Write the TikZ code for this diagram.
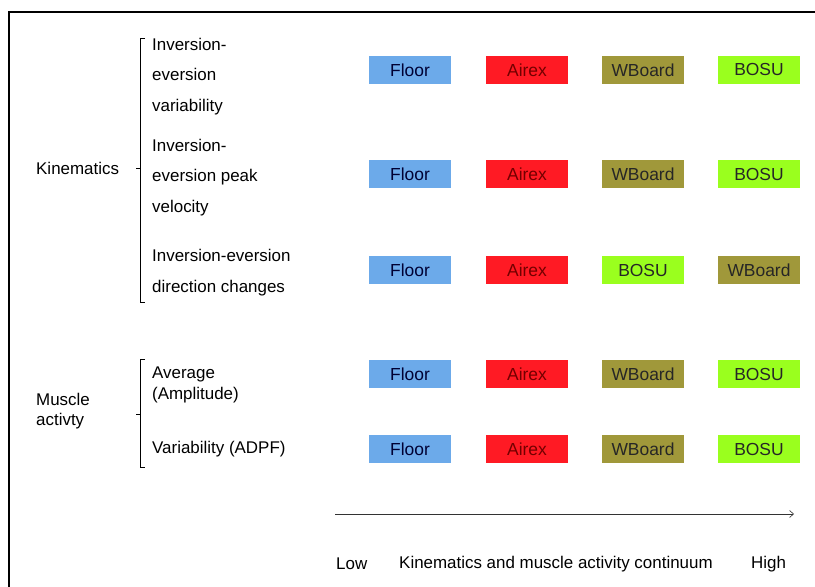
\documentclass[tikz,border=0pt]{standalone}
\usepackage{fontspec}
\setmainfont{Liberation Sans}
\usetikzlibrary{arrows.meta}
\definecolor{floorblue}{RGB}{108,170,234}
\definecolor{airexred}{RGB}{255,26,36}
\definecolor{wboardolive}{RGB}{160,152,58}
\definecolor{bosulime}{RGB}{154,255,30}
\tikzset{
  lbl/.style={anchor=west,inner sep=0pt,align=left,font=\fontsize{17}{30.5}\selectfont},
  cbox/.style={minimum width=82bp,minimum height=28bp,inner sep=0pt,font=\fontsize{17.5}{18}\selectfont,text=black!85},
  c-Floor/.style={cbox,fill=floorblue,text=blue!20!black},
  c-Airex/.style={cbox,fill=airexred,text=red!45!black},
  c-WBoard/.style={cbox,fill=wboardolive},
  c-BOSU/.style={cbox,fill=bosulime}
}
\begin{document}
\begin{tikzpicture}[x=1bp,y=-1bp,>={Straight Barb[length=4bp,width=7bp]}]
\useasboundingbox (0,0) rectangle (815,587);
% frame
\draw[line width=1.3bp] (9,587) -- (9,12) -- (815,12);
% group labels
\node[lbl] (kin) at (36,168) {Kinematics};
\node[lbl,font=\fontsize{17}{20}\selectfont] (mus) at (36,411) {Muscle\\activty};
% brackets
\draw[line width=0.8bp] (145,38) -- (140,38) -- (140,302) -- (145,302)
  (140,168) -- (136,168);
\draw[line width=0.8bp] (145,359) -- (140,359) -- (140,467) -- (145,467)
  (140,414) -- (136,414);
% measures
\node[lbl] (ivar) at (152,76.5) {Inversion-\\eversion\\variability};
\node[lbl] (ipeak) at (152,177.5) {Inversion-\\eversion peak\\velocity};
\node[lbl] (idir) at (152,272.5) {Inversion-eversion\\direction changes};
\node[lbl,font=\fontsize{17}{21}\selectfont] (mavg) at (152,384.5) {Average\\(Amplitude)};
\node[lbl] (mvar) at (152,449) {Variability (ADPF)};
% surfaces, ordered low to high
\foreach \r/\y/\a/\b/\c/\d in {1/70/Floor/Airex/WBoard/BOSU,
                               2/174/Floor/Airex/WBoard/BOSU,
                               3/270/Floor/Airex/BOSU/WBoard,
                               4/374/Floor/Airex/WBoard/BOSU,
                               5/449/Floor/Airex/WBoard/BOSU}
{
  \node[c-\a] (s\r-1) at (410,\y) {\a};
  \node[c-\b] (s\r-2) at (527,\y) {\b};
  \node[c-\c] (s\r-3) at (643,\y) {\c};
  \node[c-\d] (s\r-4) at (759,\y) {\d};
}
% continuum
\coordinate (lo) at (335,514);
\coordinate (hi) at (794,514);
\draw[->,line width=0.6bp,black!80] (lo) -- (hi);
\node[lbl] (low) at (336,564) {Low};
\node[lbl] (cont) at (399,564) {Kinematics and muscle activity continuum};
\node[lbl] (high) at (751,564) {High};
\end{tikzpicture}
\end{document}
